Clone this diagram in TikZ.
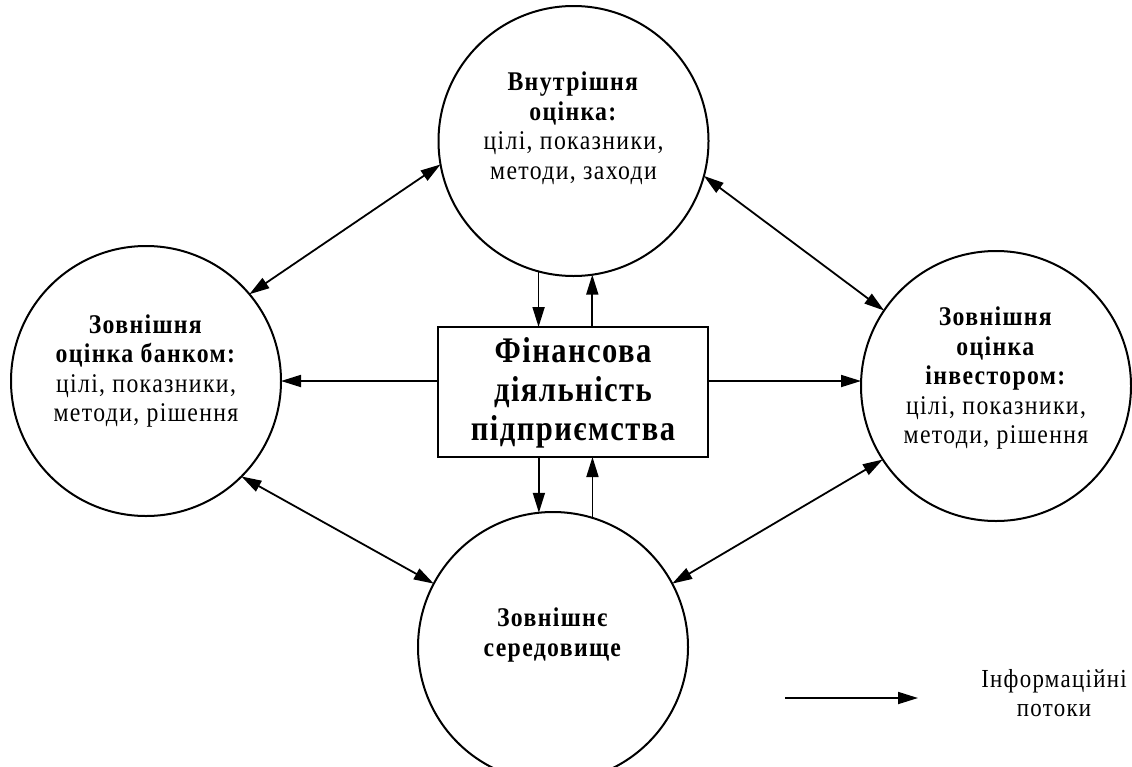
\documentclass[tikz,border=0pt]{standalone}
\usepackage{fontspec}
\setmainfont{Liberation Serif}
\newfontfamily\circfont[FakeStretch=0.88,LetterSpace=5]{Liberation Serif}
\newfontfamily\boxfont[FakeStretch=0.85,LetterSpace=4]{Liberation Serif}
\usetikzlibrary{arrows.meta,calc}
\begin{document}
\begin{tikzpicture}[x=1pt,y=-1pt,
  circ/.style={circle,draw,line width=2pt,minimum size=270pt,inner sep=0pt,outer sep=0pt},
  box/.style={draw,line width=2pt,minimum width=270pt,minimum height=130pt,inner sep=0pt,outer sep=0pt},
  txt/.style={align=center,font=\circfont\fontsize{27}{29.5}\selectfont},
  bigtxt/.style={align=center,font=\boxfont\fontsize{36}{39}\selectfont\bfseries},
  legtxt/.style={align=center,font=\circfont\fontsize{26}{29}\selectfont},
  arr/.style={line width=1.8pt,-{Triangle[length=20pt,width=12pt]}},
  darr/.style={line width=1.8pt,{Triangle[length=20pt,width=12pt]}-{Triangle[length=20pt,width=12pt]}}]
\useasboundingbox (0,0) rectangle (1132,766);
\fill[white] (0,0) rectangle (1132,766);
\node[circ] (top) at (573.5,141) {};
\node[circ] (left) at (146,381) {};
\node[circ] (right) at (996,386) {};
\node[circ] (bot) at (553,647) {};
\node[box] (fin) at (573,392) {};

\node[txt] (toptxt) at (573.5,128) {\textbf{Внутрішня}\\\textbf{оцінка:}\\цілі, показники,\\методи, заходи};
\node[txt] (lefttxt) at (146,371) {\textbf{Зовнішня}\\\textbf{оцінка банком:}\\цілі, показники,\\методи, рішення};
\node[txt] (righttxt) at (996,378) {\textbf{Зовнішня}\\\textbf{оцінка}\\\textbf{інвестором:}\\цілі, показники,\\методи, рішення};
\node[txt] (bottxt) at (553,635) {\textbf{Зовнішнє}\\\textbf{середовище}};
\node[bigtxt] (fintxt) at (573,393) {Фінансова\\діяльність\\підприємства};

% vertical flows
\draw[arr] (top.-105.7) -- (top.-105.7 |- fin.north);
\draw[arr] (top.-82.1 |- fin.north) -- (top.-82.1);
\draw[arr] (bot.96.4 |- fin.south) -- (bot.96.4);
\draw[arr] (bot.73.2) -- (bot.73.2 |- fin.south);
% horizontal flows
\draw[arr] (left.east -| fin.west) -- (left.east);
\draw[arr] (left.east -| fin.east) -- (left.east -| right.west);
% diagonal flows
\draw[darr] (left.40) -- (top.190.2);
\draw[darr] (top.-15.8) -- (right.146.2);
\draw[darr] (left.-45) -- (bot.152.3);
\draw[darr] (right.213) -- (bot.28.1);

% legend
\coordinate (la) at (785,698);
\coordinate (lb) at (918,698);
\draw[arr] (la) -- (lb);
\node[legtxt] (leg) at (1054,693) {Інформаційні\\потоки};
\end{tikzpicture}
\end{document}
